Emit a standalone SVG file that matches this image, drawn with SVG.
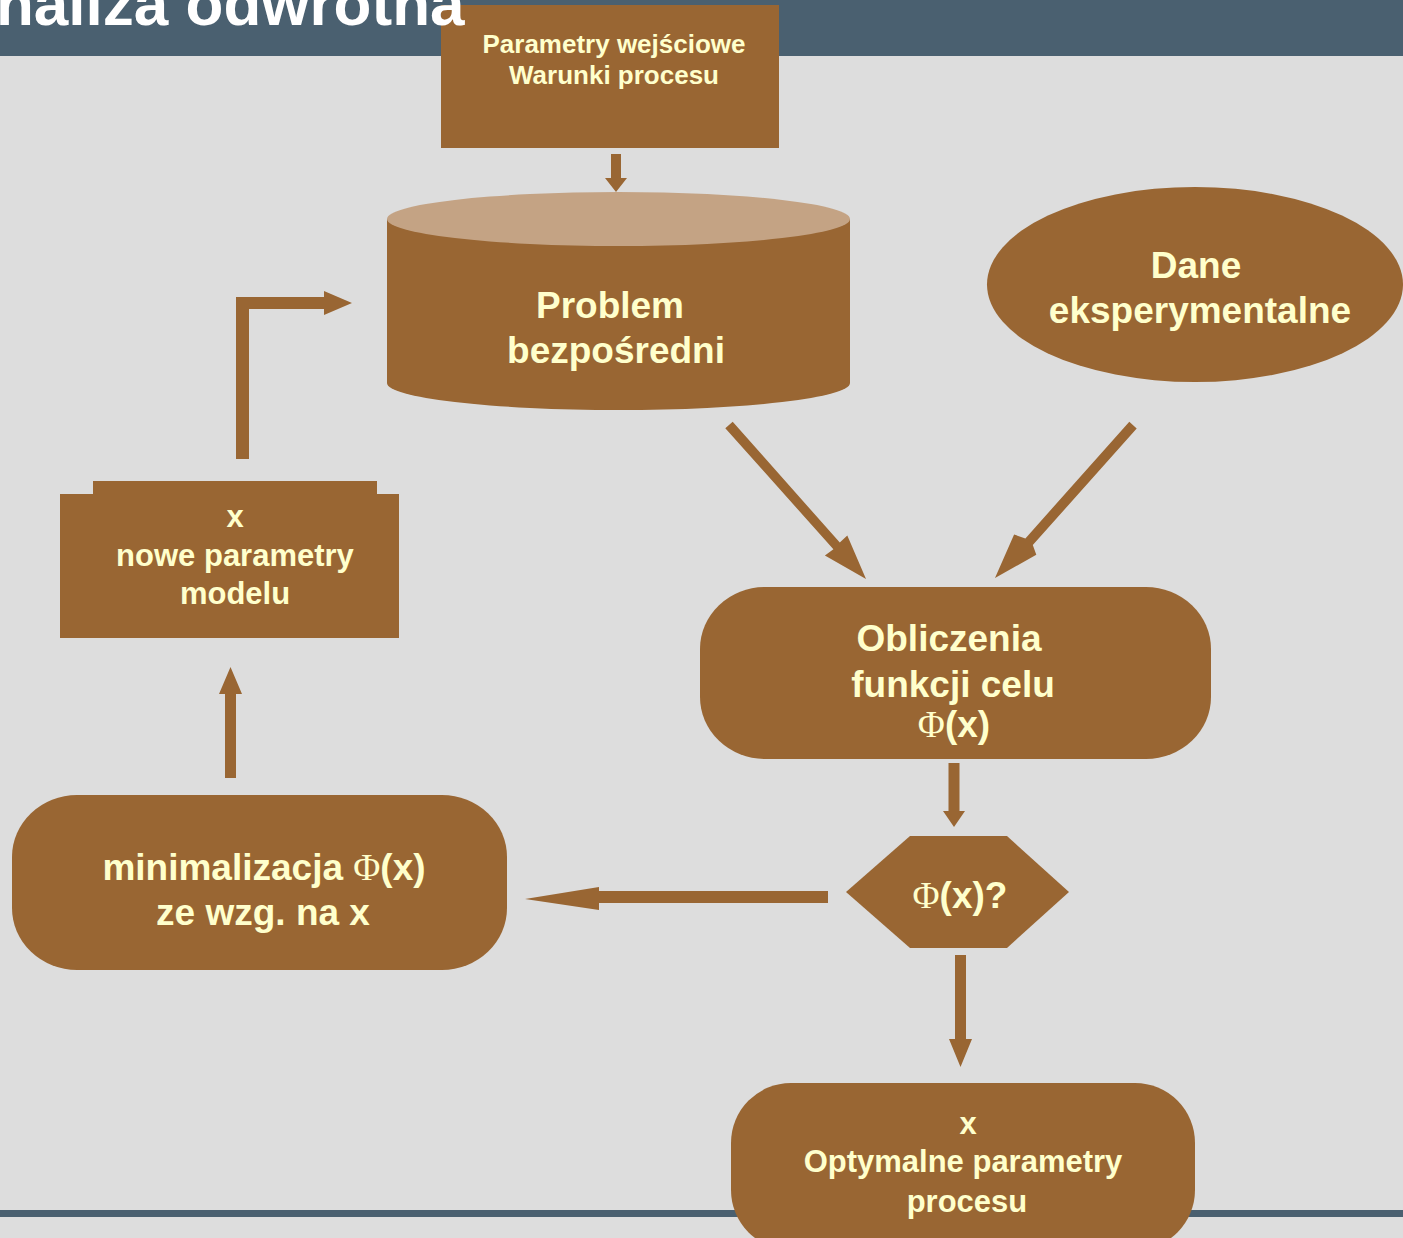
<svg xmlns="http://www.w3.org/2000/svg" width="1403" height="1238" viewBox="0 0 1403 1238">
<defs>
<style>
.node{fill:#996633}
.lbl{font-family:"Liberation Sans",Arial,sans-serif;font-weight:bold;fill:#FFFFCC;text-anchor:middle}
.phi{font-family:"Liberation Serif","DejaVu Serif",serif;font-weight:normal}
.arr{fill:#996633}
.bar{fill:#4A6070}
</style>
</defs>
<rect x="0" y="0" width="1403" height="1238" fill="#DDDDDD"/>
<rect class="bar" x="0" y="0" width="1403" height="56"/>
<rect class="bar" x="0" y="1210" width="1403" height="7"/>

<g id="parametry-wejsciowe">
<rect class="node" x="441" y="5" width="338" height="143"/>
<text class="lbl" font-size="26"><tspan x="614" y="53">Parametry wejściowe</tspan><tspan x="614" y="84">Warunki procesu</tspan></text>
</g>

<text x="-4" y="25" font-family="Liberation Sans, Arial, sans-serif" font-weight="bold" font-size="62" fill="#FFFFFF">naliza odwrotna</text>

<g id="problem-bezposredni">
<path class="node" d="M387,219 L387,383 A231.5,27 0 0 0 850,383 L850,219 Z"/>
<ellipse cx="618.5" cy="219" rx="231.5" ry="27" fill="#C4A384"/>
<text class="lbl" font-size="37"><tspan x="610" y="318">Problem</tspan><tspan x="616" y="363">bezpośredni</tspan></text>
</g>

<g id="dane-eksperymentalne">
<ellipse class="node" cx="1195" cy="284.5" rx="208" ry="97.5"/>
<text class="lbl" font-size="37"><tspan x="1196" y="278">Dane</tspan><tspan x="1200" y="323">eksperymentalne</tspan></text>
</g>

<g id="obliczenia">
<rect class="node" x="700" y="587" width="511" height="172" rx="65" ry="62"/>
<text class="lbl" font-size="37"><tspan x="949" y="651">Obliczenia</tspan><tspan x="953" y="697">funkcji celu</tspan><tspan x="954" y="737"><tspan class="phi">Φ</tspan>(x)</tspan></text>
</g>

<g id="decyzja">
<polygon class="node" points="846,892 910,836 1007,836 1069,892 1007,948 910,948"/>
<text class="lbl" font-size="37" x="960" y="908"><tspan class="phi">Φ</tspan>(x)?</text>
</g>

<g id="minimalizacja">
<rect class="node" x="12" y="795" width="495" height="175" rx="65" ry="62"/>
<text class="lbl" font-size="37"><tspan x="264" y="880">minimalizacja <tspan class="phi">Φ</tspan>(x)</tspan><tspan x="263" y="925">ze wzg. na x</tspan></text>
</g>

<g id="nowe-parametry">
<rect class="node" x="93" y="481" width="284" height="20"/>
<rect class="node" x="60" y="494" width="339" height="144"/>
<text class="lbl" font-size="31"><tspan x="235" y="527">x</tspan><tspan x="235" y="566">nowe parametry</tspan><tspan x="235" y="604">modelu</tspan></text>
</g>

<g id="optymalne-parametry">
<rect class="node" x="731" y="1083" width="464" height="167" rx="60" ry="60"/>
<text class="lbl" font-size="31"><tspan x="968" y="1134">x</tspan><tspan x="963" y="1172">Optymalne parametry</tspan><tspan x="967" y="1212">procesu</tspan></text>
</g>

<g id="connectors">
<polygon class="arr" points="611,154 621,154 621,178 627,178 616,192 605,178 611,178"/>
<polygon class="arr" points="725.3,428.3 833.4,549.2 824.9,555.4 866,579 847.3,535.4 839.8,542.6 732.7,421.7"/>
<polygon class="arr" points="1129.3,421.7 1025.4,538.4 1014.1,534.5 995,578 1036.3,554.7 1032.8,545.1 1136.7,428.4"/>
<polygon class="arr" points="948.5,763 959.5,763 959.5,811 965,811 954,827 943,811 948.5,811"/>
<polygon class="arr" points="955,955 966,955 966,1039 972,1039 960.5,1067 949,1039 955,1039"/>
<polygon class="arr" points="828,891 828,903 599,903 599,910 525,899 599,887 599,891"/>
<polygon class="arr" points="225,778 236,778 236,694 242,694 230.5,667 219,694 225,694"/>
<polygon class="arr" points="236,459 236,297 324,297 324,291 352,303 324,315 324,309 249,309 249,459"/>
</g>
</svg>
